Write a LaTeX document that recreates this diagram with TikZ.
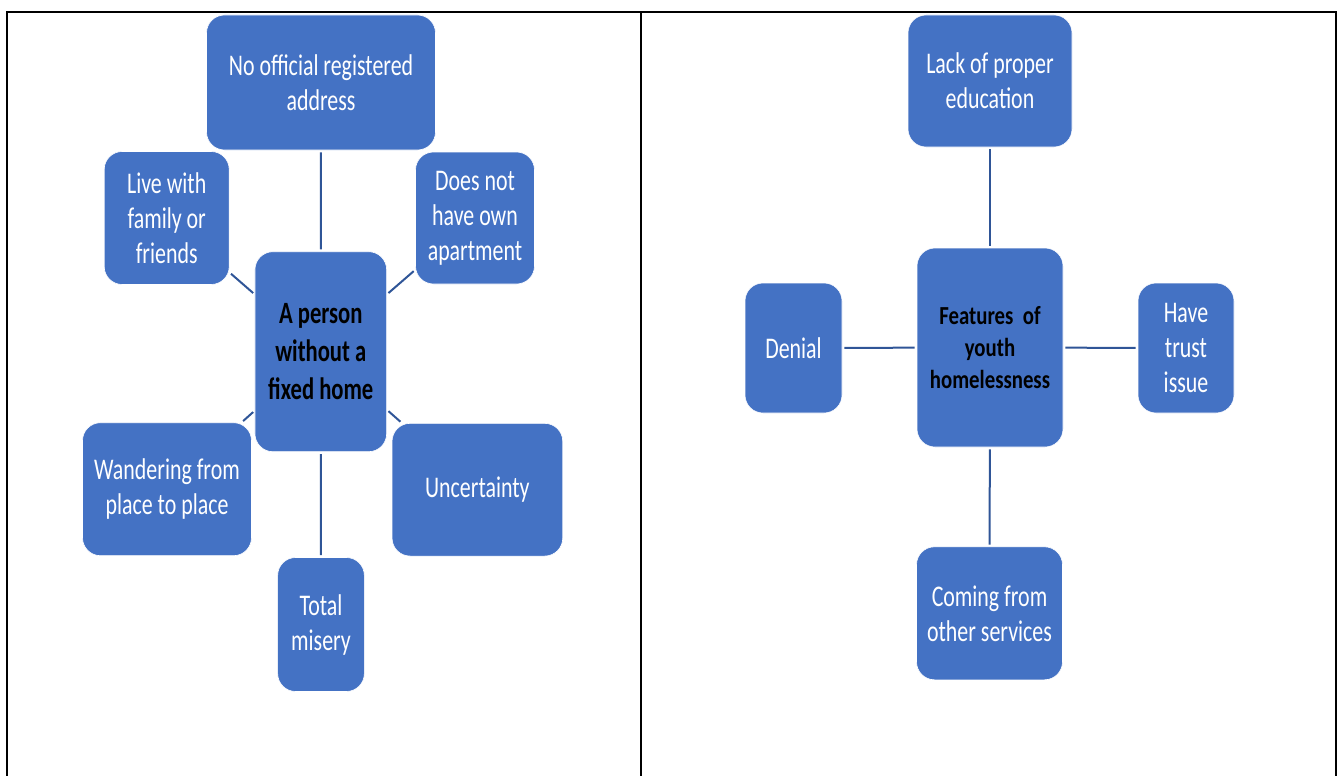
\documentclass[tikz,border=0pt]{standalone}
\usepackage{fontspec}
\newfontfamily\boxfont[FakeStretch=0.73]{Carlito}
\newfontfamily\boxfontR[FakeStretch=0.80]{Carlito}
\definecolor{boxblue}{HTML}{4472C4}
\definecolor{lineblue}{HTML}{2F5597}
\tikzset{
  card/.style={rectangle, rounded corners=18pt, fill=boxblue, draw=white, line width=0.6pt,
    inner sep=0pt, align=center, text=white, font=\boxfont\fontsize{30}{35}\selectfont},
  hub/.style={card, text=black, font=\boxfont\bfseries\fontsize{31}{38}\selectfont},
  hubR/.style={card, text=black, font=\boxfontR\bfseries\fontsize{26}{32}\selectfont},
  conn/.style={draw=lineblue, line width=2pt, shorten >=2pt, shorten <=2pt},
  frame/.style={draw=black, line width=2.2pt}
}
\begin{document}
\begin{tikzpicture}[x=1pt, y=-1pt]
\useasboundingbox (0,0) rectangle (1341,776);
% frame
\draw[frame] (6.7,776) -- (6.7,12.3) -- (1336,12.3) -- (1336,776);
\draw[frame] (641,12.3) -- (641,776);

% left panel
\node[hub, minimum width=131.7pt, minimum height=200pt] (c1) at (320.8,351.7) {A person\\without a\\fixed home};
\node[card, minimum width=229pt, minimum height=135pt] (addr) at (321,82.5) {No official registered\\address};
\node[card, minimum width=125pt, minimum height=133pt] (live) at (166.7,218) {Live with\\family or\\friends};
\node[card, minimum width=119pt, minimum height=132pt] (apt) at (475,218) {Does not\\have own\\apartment};
\node[card, minimum width=169pt, minimum height=133pt] (wand) at (167,489.2) {Wandering from\\place to place};
\node[card, minimum width=170.7pt, minimum height=132.7pt] (unc) at (477.4,489.7) {Uncertainty};
\node[card, minimum width=86.7pt, minimum height=134pt] (mis) at (321,624.5) {Total\\misery};

\draw[conn] (c1) -- (addr);
\draw[conn] (c1) -- (live);
\draw[conn] (c1) -- (apt);
\draw[conn] (c1) -- (wand);
\draw[conn] (c1) -- (unc);
\draw[conn] (c1) -- (mis);

% right panel
\node[hubR, minimum width=146pt, minimum height=199pt] (c2) at (990,347.5) {Features~~of\\youth\\homelessness};
\node[card, minimum width=164pt, minimum height=132pt] (edu) at (990,81) {Lack of proper\\education};
\node[card, minimum width=97pt, minimum height=130pt] (den) at (793.5,348) {Denial};
\node[card, minimum width=96pt, minimum height=130pt] (trust) at (1186,348) {Have\\trust\\issue};
\node[card, minimum width=146pt, minimum height=133pt] (serv) at (989.5,613.3) {Coming from\\other services};

\draw[conn] (c2) -- (edu);
\draw[conn] (c2) -- (den);
\draw[conn] (c2) -- (trust);
\draw[conn] (c2) -- (serv);
\end{tikzpicture}
\end{document}
